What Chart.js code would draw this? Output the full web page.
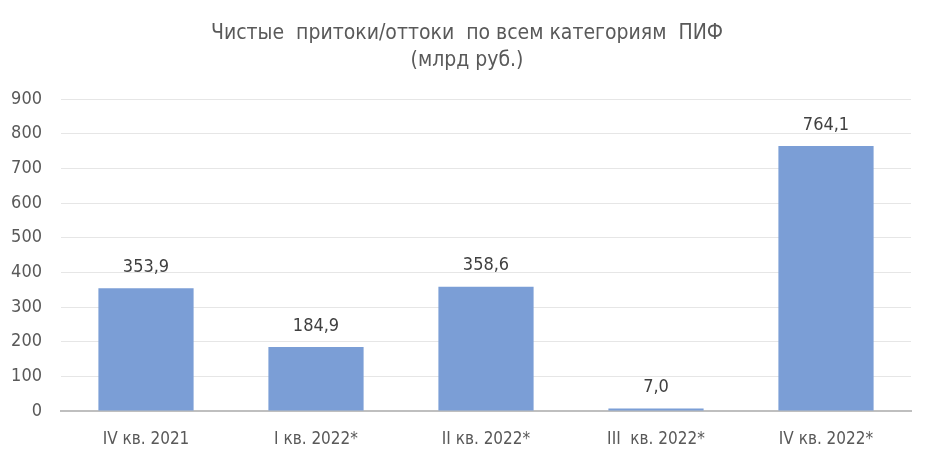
<!DOCTYPE html>
<html>
<head>
<meta charset="utf-8">
<script src="https://cdn.jsdelivr.net/npm/chart.js@4.4.0/dist/chart.umd.min.js"></script>
<style>
  html, body { margin: 0; padding: 0; background: #fff; }
  #wrap { width: 934px; height: 462px; }
</style>
</head>
<body>
<div id="wrap"><canvas id="flowsChart" width="934" height="462"></canvas></div>
<script>
const categories = ["IV кв. 2021", "I кв. 2022*", "II кв. 2022*", "III  кв. 2022*", "IV кв. 2022*"];
const values = [353.9, 184.9, 358.6, 7.0, 764.1];
const valueLabels = ["353,9", "184,9", "358,6", "7,0", "764,1"];
const titleLines = ["Чистые  притоки/оттоки  по всем категориям  ПИФ", "(млрд руб.)"];

const FONT = "'DejaVu Sans Condensed', 'Liberation Sans', sans-serif";

// подписи над столбцами
const barLabels = {
  id: "barLabels",
  afterDatasetsDraw(chart) {
    const c = chart.ctx;
    const meta = chart.getDatasetMeta(0);
    c.save();
    c.font = "18px " + FONT;
    c.fillStyle = "#404040";
    c.textAlign = "center";
    c.textBaseline = "middle";
    meta.data.forEach((bar, i) => {
      c.fillText(valueLabels[i], bar.x, bar.y - 21);
    });
    c.restore();
  },
};

// заголовок по центру всего холста
const centerTitle = {
  id: "centerTitle",
  afterDraw(chart) {
    const c = chart.ctx;
    c.save();
    c.font = "21px " + FONT;
    c.fillStyle = "#595959";
    c.textAlign = "center";
    c.textBaseline = "middle";
    titleLines.forEach((t, i) => c.fillText(t, chart.width / 2, 34 + i * 27));
    c.restore();
  },
};

const ctx = document.getElementById("flowsChart").getContext("2d");
const chart = new Chart(ctx, {
  type: "bar",
  data: {
    labels: categories,
    datasets: [
      {
        data: values,
        backgroundColor: "#7b9ed6",
        borderWidth: 0,
        categoryPercentage: 1,
        barPercentage: 0.56,
      },
    ],
  },
  options: {
    responsive: false,
    animation: false,
    layout: { padding: { left: 0, right: 23, top: 99, bottom: 0 } },
    plugins: {
      legend: { display: false },
      tooltip: { enabled: false },
      title: { display: false },
    },
    scales: {
      x: {
        grid: { display: false },
        border: { color: "#bfbfbf", width: 2 },
        ticks: { color: "#595959", font: { family: FONT, size: 17 }, padding: 10 },
        afterFit(s) { s.height = 51; },
      },
      y: {
        min: 0,
        max: 900,
        ticks: { stepSize: 100, color: "#595959", font: { family: FONT, size: 18 }, padding: 19 },
        grid: { color: "#e6e6e6", lineWidth: 1, drawTicks: false },
        border: { display: false },
        afterFit(s) { s.width = 61; },
      },
    },
  },
  plugins: [barLabels, centerTitle],
});
</script>
</body>
</html>
